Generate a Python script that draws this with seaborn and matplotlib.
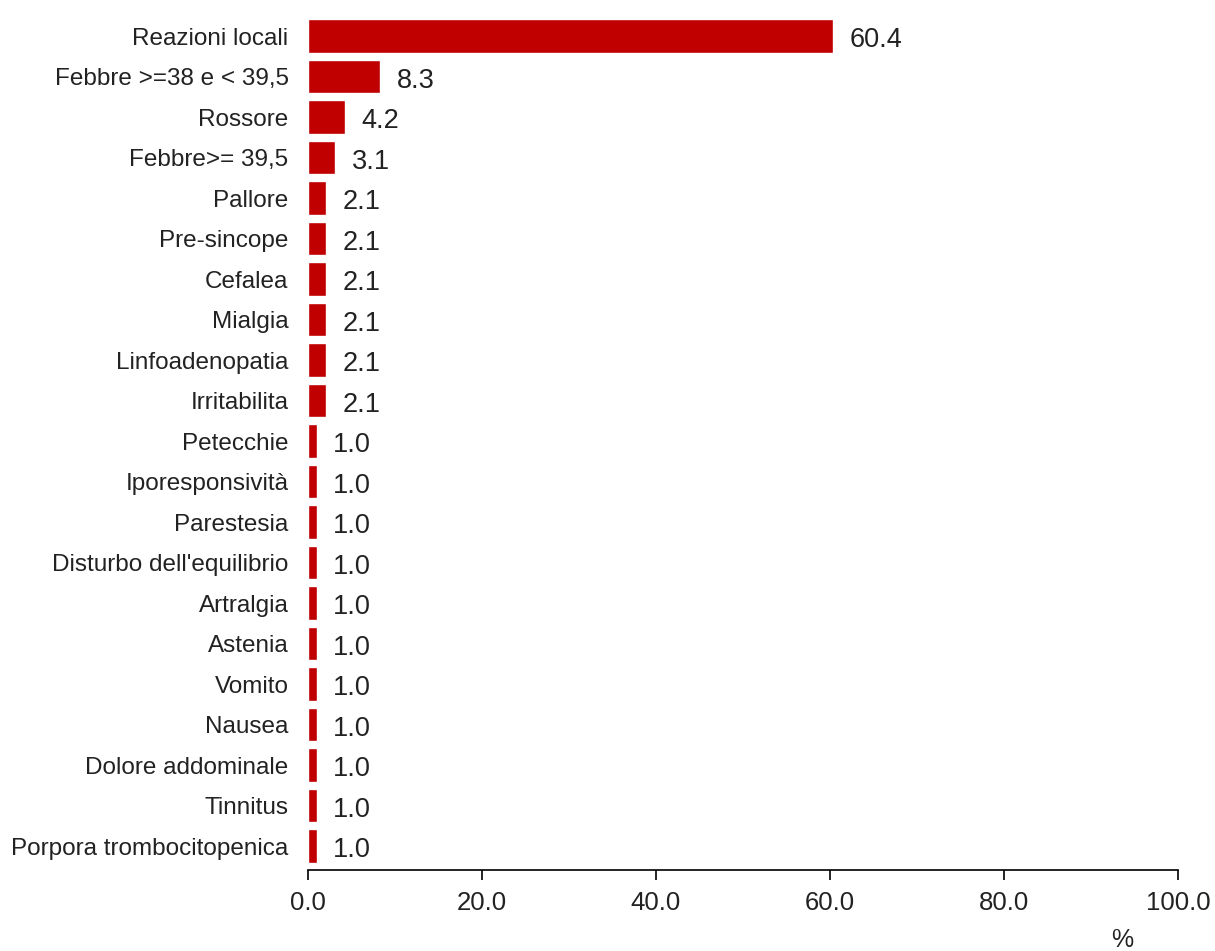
import matplotlib
matplotlib.use("Agg")
import matplotlib.pyplot as plt
import seaborn as sns
import pandas as pd

categories = ["Reazioni locali", "Febbre >=38 e < 39,5", "Rossore", "Febbre>= 39,5",
              "Pallore", "Pre-sincope", "Cefalea", "Mialgia", "Linfoadenopatia",
              "Irritabilita", "Petecchie", "Iporesponsività", "Parestesia",
              "Disturbo dell'equilibrio", "Artralgia", "Astenia", "Vomito", "Nausea",
              "Dolore addominale", "Tinnitus", "Porpora trombocitopenica"]
values = [60.4, 8.3, 4.2, 3.1, 2.1, 2.1, 2.1, 2.1, 2.1, 2.1,
          1.0, 1.0, 1.0, 1.0, 1.0, 1.0, 1.0, 1.0, 1.0, 1.0, 1.0]
xticks = [0, 20, 40, 60, 80, 100]

sns.set_theme(style="white")
plt.rcParams['font.family'] = ['Liberation Sans', 'DejaVu Sans']

df = pd.DataFrame({"cat": categories, "val": values})
fig = plt.figure(figsize=(12.15, 9.51), dpi=100)
ax = fig.add_axes([0.2535, 0.0852, 0.716, 0.8982])
sns.barplot(data=df, x="val", y="cat", color="#C00000", saturation=1, width=0.82,
            ax=ax, orient="h")
ax.set_xlim(0, 100)
ax.set_ylim(20.59, -0.5)
ax.set_xticks(xticks)
ax.set_xticklabels([f"{t:.1f}" for t in xticks], fontsize=18.5, color="#222222")
ax.tick_params(axis="x", direction="out", length=7, width=1.2, color="black", pad=8, bottom=True)
ax.tick_params(axis="y", length=0, pad=14, labelsize=17.5, labelcolor="#222222")
ax.set_xlabel("")
ax.set_ylabel("")
for s in ["top", "right", "left"]:
    ax.spines[s].set_visible(False)
ax.spines["bottom"].set_color("black")
ax.spines["bottom"].set_linewidth(1.2)

for i, v in enumerate(values):
    ax.annotate(f"{v:.1f}", xy=(v, i), xytext=(12, -3), textcoords="offset points",
                va="center", ha="left", fontsize=19.5, color="#222222")

fig.text(1122 / 1215, 1 - 940 / 951, "%", fontsize=18, color="#222222", ha="center", va="center")
fig.savefig("out.png", dpi=100)
